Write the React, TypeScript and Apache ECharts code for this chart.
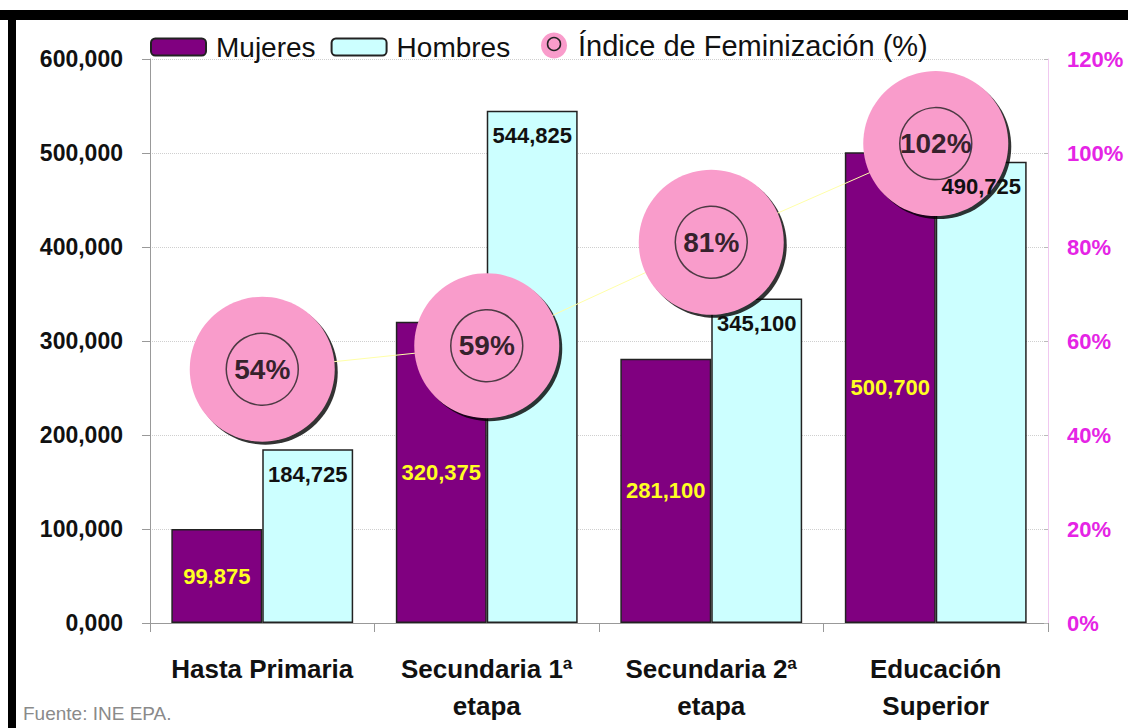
import React, { useEffect, useRef } from "react";
import * as echarts from "echarts";

const categories = ["Hasta Primaria", "Secundaria 1ª\netapa", "Secundaria 2ª\netapa", "Educación\nSuperior"];
const mujeres = [99875, 320375, 281100, 500700];
const hombres = [184725, 544825, 345100, 490725];
const indice = [0.54, 0.59, 0.81, 1.02];
const leftTickLabels = ["0,000", "100,000", "200,000", "300,000", "400,000", "500,000", "600,000"];
const rightTickLabels = ["0%", "20%", "40%", "60%", "80%", "100%", "120%"];

const FONT = 'Arial, "Liberation Sans", sans-serif';
const PINK = "#f99ccb";
const PURPLE = "#800080";
const CYAN = "#ccffff";

const fmt = (v: number) => v.toLocaleString("en-US");

export default function App() {
  const ref = useRef<HTMLDivElement>(null);
  useEffect(() => {
    document.body.style.margin = "0";
    const chart = echarts.init(ref.current!, null, { renderer: "svg" });
    const barCommon = {
      barCategoryGap: "19%",
      barGap: "0%",
    };
    chart.setOption({
      animation: false,
      backgroundColor: "#ffffff",
      grid: { left: 150, right: 80, top: 59, bottom: 105 },
      legend: [
        {
          data: ["Mujeres", "Hombres"],
          left: 150,
          top: 33,
          padding: 0,
          itemWidth: 55,
          itemHeight: 17,
          itemGap: 15,
          textStyle: { fontFamily: FONT, fontSize: 28, lineHeight: 26, color: "#111", padding: [0, 0, 0, 5] },
        },
        {
          data: [{ name: "Índice de Feminización (%)", icon: "circle", itemStyle: { color: PINK } }],
          left: 541,
          top: 31,
          padding: 0,
          itemWidth: 26,
          itemHeight: 26,
          textStyle: { fontFamily: FONT, fontSize: 29, lineHeight: 26, color: "#111", padding: [0, 0, 0, 6] },
        },
      ],
      xAxis: [
        {
          type: "category",
          data: categories,
          axisLine: { lineStyle: { color: "#999", width: 1 } },
          axisTick: { show: true, length: 9, lineStyle: { color: "#999" } },
          axisLabel: {
            interval: 0,
            hideOverlap: false,
            fontFamily: FONT,
            fontSize: 26,
            fontWeight: "bold",
            color: "#111",
            lineHeight: 37,
            margin: 27,
          },
        },
        { type: "category", data: categories, show: false },
      ],
      yAxis: [
        {
          type: "value",
          min: 0,
          max: 600000,
          interval: 100000,
          axisLine: { show: true, lineStyle: { color: "#999" } },
          axisTick: { show: true, length: 8, lineStyle: { color: "#999" } },
          axisLabel: {
            fontFamily: FONT,
            fontSize: 23,
            fontWeight: "bold",
            color: "#111",
            margin: 27,
            formatter: (v: number) => leftTickLabels[Math.round(v / 100000)],
          },
          splitLine: { show: true, lineStyle: { color: "#cfcfcf", type: "dotted", width: 1 } },
        },
        {
          type: "value",
          min: 0,
          max: 1.2,
          interval: 0.2,
          position: "right",
          axisLine: { show: true, lineStyle: { color: "#f0c8f0" } },
          axisTick: { show: true, inside: true, length: 4, lineStyle: { color: "#bbb" } },
          axisLabel: {
            fontFamily: FONT,
            fontSize: 22,
            fontWeight: "bold",
            color: "#e524e5",
            margin: 19,
            formatter: (v: number) => rightTickLabels[Math.round(v / 0.2)],
          },
          splitLine: { show: false },
        },
      ],
      graphic: [
        { type: "rect", shape: { x: 0, y: 10, width: 1128, height: 10 }, style: { fill: "#000" }, z: 100 },
        { type: "rect", shape: { x: 8, y: 10, width: 8, height: 718 }, style: { fill: "#000" }, z: 100 },
        {
          type: "text",
          x: 23,
          y: 713,
          style: { text: "Fuente: INE EPA.", fontFamily: FONT, fontSize: 19, fill: "#8a8a8a", verticalAlign: "middle" },
        },
        {
          type: "circle",
          shape: { cx: 554, cy: 44, r: 6.5 },
          style: { fill: "none", stroke: "#222", lineWidth: 1.5 },
          z: 100,
        },
      ],
      series: [
        {
          name: "Mujeres",
          type: "bar",
          data: mujeres,
          ...barCommon,
          itemStyle: { color: PURPLE, borderColor: "#222", borderWidth: 1.5 },
          z: 2,
        },
        {
          name: "Hombres",
          type: "bar",
          data: hombres,
          ...barCommon,
          itemStyle: { color: CYAN, borderColor: "#222", borderWidth: 1.5 },
          z: 2,
        },
        {
          name: "shadow",
          type: "scatter",
          yAxisIndex: 1,
          data: indice,
          symbol: "circle",
          symbolSize: 145,
          symbolOffset: [3, 3],
          itemStyle: { color: "#000" },
          z: 3,
          silent: true,
        },
        {
          name: "Índice de Feminización (%)",
          type: "line",
          yAxisIndex: 1,
          data: indice,
          symbol: "circle",
          symbolSize: 145,
          lineStyle: { color: "#ffffa8", width: 1 },
          itemStyle: { color: PINK, borderColor: PINK, borderWidth: 0 },
          z: 4,
        },
        {
          name: "ring",
          type: "scatter",
          yAxisIndex: 1,
          data: indice,
          symbol: "circle",
          symbolSize: 72,
          itemStyle: { color: "rgba(0,0,0,0)", borderColor: "#222", borderWidth: 1.5 },
          label: {
            show: true,
            position: "inside",
            formatter: (p: any) => Math.round(p.value * 100) + "%",
            fontFamily: FONT,
            fontSize: 28,
            fontWeight: "bold",
            color: "#000",
            textBorderWidth: 0,
          },
          z: 5,
        },
        {
          name: "MujeresLabels",
          type: "bar",
          xAxisIndex: 1,
          data: mujeres,
          ...barCommon,
          itemStyle: { color: "rgba(0,0,0,0)" },
          label: {
            show: true,
            position: "inside",
            formatter: (p: any) => fmt(p.value),
            fontFamily: FONT,
            fontSize: 22,
            fontWeight: "bold",
            color: "#ffff22",
            textBorderWidth: 0,
          },
          z: 10,
          silent: true,
        },
        {
          name: "HombresLabels",
          type: "bar",
          xAxisIndex: 1,
          data: hombres,
          ...barCommon,
          itemStyle: { color: "rgba(0,0,0,0)" },
          label: {
            show: true,
            position: "insideTop",
            distance: 14,
            formatter: (p: any) => fmt(p.value),
            fontFamily: FONT,
            fontSize: 22,
            fontWeight: "bold",
            color: "#111",
            textBorderWidth: 0,
          },
          z: 10,
          silent: true,
        },
      ],
    });
    return () => chart.dispose();
  }, []);
  return <div ref={ref} style={{ width: 1128, height: 728 }} />;
}
